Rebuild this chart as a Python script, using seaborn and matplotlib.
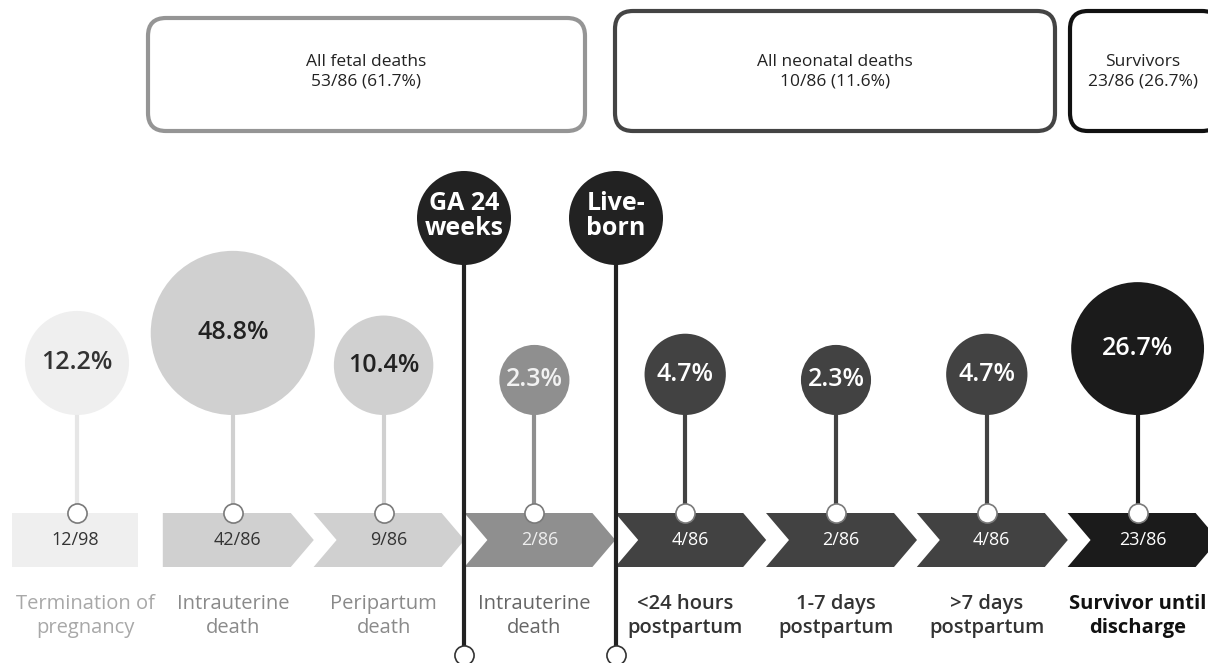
import numpy as np
import matplotlib
matplotlib.use("Agg")
import matplotlib.pyplot as plt
from matplotlib.patches import Circle, Polygon, Rectangle, FancyBboxPatch
import seaborn as sns

# ---------------- data ----------------
categories = ["Termination of\npregnancy", "Intrauterine\ndeath", "Peripartum\ndeath",
              "Intrauterine\ndeath", "<24 hours\npostpartum", "1-7 days\npostpartum",
              ">7 days\npostpartum", "Survivor until\ndischarge"]
percent = [12.2, 48.8, 10.4, 2.3, 4.7, 2.3, 4.7, 26.7]
counts = ["12/98", "42/86", "9/86", "2/86", "4/86", "2/86", "4/86", "23/86"]
group_titles = ["All fetal deaths\n53/86 (61.7%)", "All neonatal deaths\n10/86 (11.6%)",
                "Survivors\n23/86 (26.7%)"]
milestones = ["GA 24\nweeks", "Live-\nborn"]

# ---------------- style ----------------
sns.set_theme(style="white")
plt.rcParams["font.family"] = ["Open Sans", "DejaVu Sans"]

fill = ["#efefef", "#d0d0d0", "#d0d0d0", "#8f8f8f", "#424242", "#424242", "#424242", "#1b1b1b"]
pct_color = ["#333333", "#222222", "#222222", "#f2f2f2", "#ffffff", "#ffffff", "#ffffff", "#ffffff"]
cnt_color = ["#333333", "#333333", "#333333", "#eeeeee", "#ffffff", "#ffffff", "#ffffff", "#ffffff"]
lab_color = ["#a8a8a8", "#8a8a8a", "#8a8a8a", "#666666", "#333333", "#333333", "#333333", "#111111"]
lab_weight = ["normal", "normal", "normal", "normal", "semibold", "semibold", "semibold", "bold"]

fig = plt.figure(figsize=(12.08, 6.63), dpi=100)
ax = fig.add_axes([0, 0, 1, 1])
ax.set_xlim(0, 1208)
ax.set_ylim(663, 0)
ax.axis("off")

step = 150.8
top, bot, mid = 513, 567, 540
bubble_bottom = 415

def radius(v):
    return 22 + 8.6 * np.sqrt(v)

xs = []
for i in range(len(categories)):
    if i == 0:
        L = 12
        ax.add_patch(Rectangle((12, top), 126, bot - top, color=fill[0], lw=0, zorder=1))
        cx = 77
        tx = 75
    else:
        L = 12 + step * i
        pts = [(L, top), (L + 128, top), (L + 151, mid), (L + 128, bot), (L, bot)]
        if i >= 2:
            pts.append((L + 23, mid))
        ax.add_patch(Polygon(pts, closed=True, color=fill[i], lw=0, zorder=1))
        cx = L + 70
        tx = L + 75
    xs.append(cx)
    ax.text(tx, mid, counts[i], ha="center", va="center", fontsize=13,
            color=cnt_color[i], zorder=3)
    r = radius(percent[i])
    cy = bubble_bottom - r
    ax.add_patch(Circle((cx, cy), r, color=fill[i], lw=0, zorder=2))
    ax.text(cx, cy, f"{percent[i]}%", ha="center", va="center",
            fontsize=18, fontweight="semibold", color=pct_color[i], zorder=3)
    stem_c = "#e6e6e6" if i == 0 else fill[i]
    ax.plot([cx, cx], [bubble_bottom - 2, top], color=stem_c, lw=3, zorder=1.5,
            solid_capstyle="butt")
    ax.text(cx + (8 if i == 0 else 0), 616, categories[i], ha="center", va="center",
            fontsize=14.5, color=lab_color[i], fontweight=lab_weight[i],
            linespacing=1.32, zorder=3)

# small white junction circles
sns.scatterplot(x=xs, y=[top] * len(xs), s=190, color="white", edgecolor="#7a7a7a",
                linewidth=1.2, zorder=4, ax=ax, legend=False)

# milestones
ms_x = [464, 616]
for mx, txt in zip(ms_x, milestones):
    ax.plot([mx, mx], [250, 647], color="#222222", lw=3, zorder=5, solid_capstyle="butt")
    ax.add_patch(Circle((mx, 218), 47, color="#222222", lw=0, zorder=6))
    ax.text(mx, 216, txt, ha="center", va="center", fontsize=18, fontweight="bold",
            color="white", linespacing=1.05, zorder=7)
sns.scatterplot(x=ms_x, y=[655, 655], s=190, color="white", edgecolor="#333333",
                linewidth=1.2, zorder=6, ax=ax, legend=False)

# group boxes
boxes = [(148, 18, 437, 113, "#959595"), (615, 11, 440, 120, "#444444"),
         (1070, 11, 150, 120, "#111111")]
text_x = [366, 835, 1143]
for (bx, by, bw, bh, ec), t, tx in zip(boxes, group_titles, text_x):
    ax.add_patch(FancyBboxPatch((bx, by), bw, bh, boxstyle="round,pad=0,rounding_size=18",
                                fc="white", ec=ec, lw=3, zorder=2))
    ax.text(tx, 72, t, ha="center", va="center", fontsize=12.5, color="#222222",
            linespacing=1.3, zorder=3)

fig.savefig("out.png", dpi=100, facecolor="white")
